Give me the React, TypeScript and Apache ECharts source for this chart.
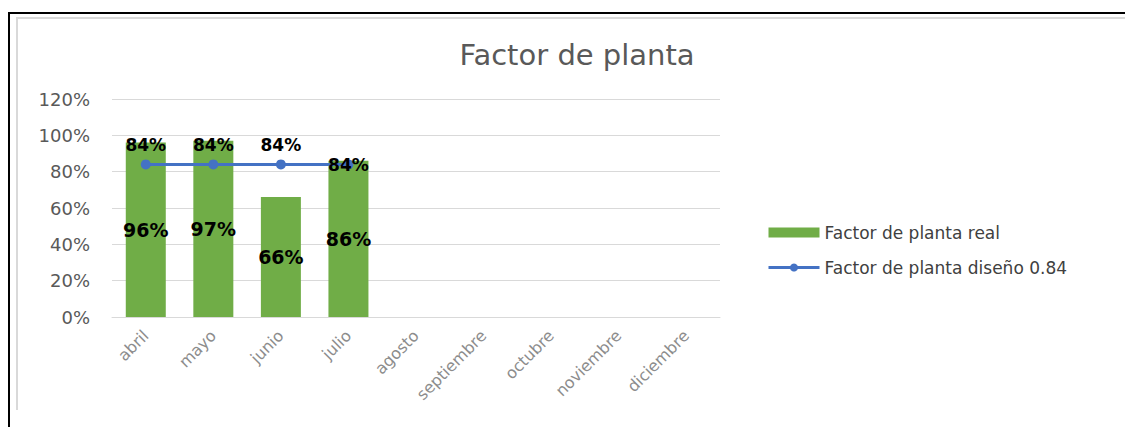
import React, { useEffect, useRef } from "react";
import * as echarts from "echarts";

const categories = ["abril", "mayo", "junio", "julio", "agosto", "septiembre", "octubre", "noviembre", "diciembre"];
const realValues = [96, 97, 66, 86, null, null, null, null, null];
const designValues = [84, 84, 84, 84, null, null, null, null, null];
const yTicks = [0, 20, 40, 60, 80, 100, 120];
const titleText = "Factor de planta";
const realName = "Factor de planta real";
const designName = "Factor de planta diseño 0.84";

const FONT = "DejaVu Sans";

export default function App() {
  const ref = useRef<HTMLDivElement>(null);
  useEffect(() => {
    if (!ref.current) return;
    const chart = echarts.init(ref.current, null, { renderer: "svg" });
    chart.setOption({
      animation: false,
      backgroundColor: "#ffffff",
      title: {
        text: titleText,
        left: 572,
        top: 35,
        textAlign: "center",
        textStyle: { fontFamily: FONT, fontSize: 29, fontWeight: "normal", color: "#595959" },
      },
      graphic: [
        { type: "rect", shape: { x: 8, y: 12, width: 1117, height: 2 }, style: { fill: "#000000" } },
        { type: "rect", shape: { x: 8, y: 12, width: 2, height: 415 }, style: { fill: "#000000" } },
        { type: "rect", shape: { x: 16, y: 17, width: 1109, height: 2 }, style: { fill: "#d9d9d9" } },
        { type: "rect", shape: { x: 16, y: 17, width: 2, height: 393 }, style: { fill: "#d9d9d9" } },
      ],
      legend: {
        orient: "vertical",
        left: 762,
        top: 219,
        itemWidth: 51,
        itemHeight: 10,
        itemGap: 18,
        textStyle: { fontFamily: FONT, fontSize: 17, color: "#404040" },
        data: [
          { name: realName, icon: "rect", itemStyle: { color: "#70ad47" } },
          { name: designName, lineStyle: { width: 3, color: "#4472c4" } },
        ],
      },
      grid: { left: 112, right: 405, top: 99, bottom: 110, containLabel: false },
      xAxis: {
        type: "category",
        data: categories,
        axisLine: { show: true, lineStyle: { color: "#d9d9d9", width: 1 } },
        axisTick: { show: false },
        axisLabel: {
          rotate: 45,
          interval: 0,
          margin: 16,
          fontFamily: FONT,
          fontSize: 16,
          color: "#8c8c8c",
        },
      },
      yAxis: {
        type: "value",
        min: 0,
        max: 120,
        interval: 20,
        axisLine: { show: false },
        axisTick: { show: false },
        splitLine: { lineStyle: { color: "#d9d9d9", width: 1 } },
        axisLabel: {
          margin: 22,
          fontFamily: FONT,
          fontSize: 18,
          color: "#595959",
          formatter: (v: number) => (yTicks.includes(v) ? v + "%" : ""),
        },
      },
      series: [
        {
          name: realName,
          type: "bar",
          data: realValues,
          barWidth: 40,
          itemStyle: { color: "#70ad47" },
          label: {
            show: true,
            position: "inside",
            formatter: (p: any) => p.value + "%",
            fontFamily: FONT,
            fontSize: 19,
            fontWeight: "bold",
            color: "#000000",
          },
        },
        {
          name: designName,
          type: "line",
          data: designValues.map((v, i) =>
            i === 3
              ? { value: v, label: { position: "inside", offset: [0, 1] } }
              : { value: v }
          ),
          symbol: "circle",
          symbolSize: 10,
          lineStyle: { color: "#4472c4", width: 3 },
          itemStyle: { color: "#4472c4" },
          label: {
            show: true,
            position: "top",
            distance: 6,
            formatter: (p: any) => p.value + "%",
            fontFamily: FONT,
            fontSize: 17,
            fontWeight: "bold",
            color: "#000000",
          },
        },
      ],
    });
    return () => chart.dispose();
  }, []);
  return (
    <div
      ref={ref}
      style={{ position: "absolute", left: 0, top: 0, width: 1125, height: 427 }}
    />
  );
}
